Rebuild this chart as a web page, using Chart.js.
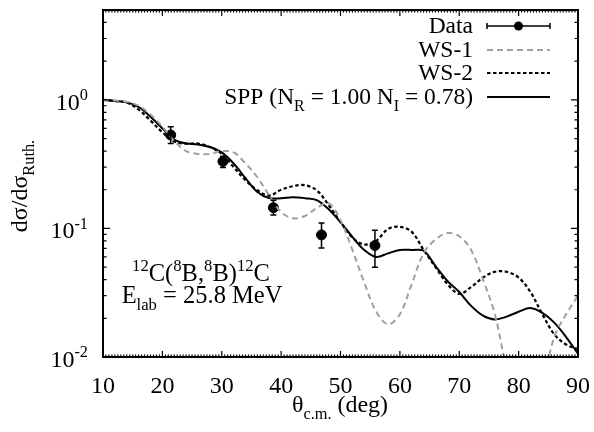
<!DOCTYPE html>
<html><head><meta charset="utf-8">
<script src="https://cdn.jsdelivr.net/npm/chart.js@4/dist/chart.umd.min.js"></script>
<style>html,body{margin:0;padding:0;background:#fff}#wrap{width:594px;height:432px}</style>
</head><body><div id="wrap"><canvas id="c" width="594" height="432"></canvas></div>
<script>
const angles = [10,12,14,16,18,20,22,24,26,28,30,32,34,36,38,40,42,44,46,48,50,52,54,56,58,60,62,64,66,68,70,72,74,76,78,80,82,84,86,88,90];
const ws1 = [1.0,0.99,0.965,0.90,0.77,0.62,0.48,0.40,0.38,0.38,0.40,0.39,0.32,0.25,0.18,0.134,0.12,0.125,0.144,0.157,0.116,0.068,0.038,0.0226,0.018,0.0215,0.037,0.064,0.082,0.092,0.087,0.068,0.040,0.0215,0.008,0.004,0.003,0.006,0.0143,0.0215,0.030];
const ws2 = [1.0,0.98,0.95,0.84,0.69,0.56,0.474,0.457,0.457,0.43,0.38,0.30,0.237,0.198,0.18,0.20,0.213,0.217,0.198,0.152,0.112,0.085,0.075,0.08,0.099,0.103,0.094,0.068,0.05,0.037,0.031,0.035,0.0415,0.046,0.046,0.0415,0.032,0.0215,0.015,0.0125,0.0115];
const spp = [1.0,0.98,0.956,0.88,0.74,0.60,0.49,0.457,0.45,0.43,0.39,0.32,0.246,0.192,0.172,0.172,0.175,0.172,0.166,0.141,0.112,0.086,0.068,0.06,0.064,0.068,0.068,0.067,0.051,0.039,0.032,0.025,0.021,0.0196,0.0206,0.0225,0.024,0.022,0.0185,0.0143,0.0106];
const dataAngles = [21.4,30.2,38.7,46.8,55.8];
const dataValues = [0.533,0.332,0.145,0.089,0.0736];
const dataLow = [0.457,0.298,0.127,0.0703,0.050];
const dataHigh = [0.618,0.365,0.166,0.110,0.097];
const xTicks = [10,20,30,40,50,60,70,80,90];
const yTickExps = [-2,-1,0];
const legendLabels = ["Data","WS-1","WS-2","SPP"];

const FONT = '"Liberation Serif","Times New Roman",serif';
const W = '';
const pts = (xs, ys) => xs.map((x,i)=>({x:x,y:ys[i]}));

function richWidth(ctx, segs, size){
  let w=0;
  for(const s of segs){ const fs = s.k ? size*0.68 : size; ctx.font = W+fs+'px '+FONT; w += ctx.measureText(s.t).width; }
  return w;
}
function drawRich(ctx, segs, x, y, size, align){
  const w = richWidth(ctx, segs, size);
  let cx = align==='right' ? x-w : align==='center' ? x-w/2 : x;
  ctx.textBaseline='alphabetic'; ctx.textAlign='left';
  for(const s of segs){
    const fs = s.k ? size*0.68 : size;
    ctx.font = W+fs+'px '+FONT;
    const dy = s.k==='sub' ? size*0.28 : s.k==='sup' ? -size*0.40 : 0;
    ctx.fillText(s.t, cx, y+dy);
    cx += ctx.measureText(s.t).width;
  }
}

const decor = {
  id:'decor',
  afterDatasetsDraw(chart){
    const ctx = chart.ctx, xs = chart.scales.x, ys = chart.scales.y;
    ctx.save();
    ctx.strokeStyle='#000'; ctx.lineWidth=1.5;
    dataAngles.forEach((d,i)=>{
      const px = xs.getPixelForValue(d), lo = ys.getPixelForValue(dataLow[i]), hi = ys.getPixelForValue(dataHigh[i]);
      ctx.beginPath(); ctx.moveTo(px,lo); ctx.lineTo(px,hi);
      ctx.moveTo(px-3,lo); ctx.lineTo(px+3,lo); ctx.moveTo(px-3,hi); ctx.lineTo(px+3,hi); ctx.stroke();
    });
    ctx.restore();
  },
  afterDraw(chart){
    const ctx = chart.ctx, xs = chart.scales.x, ys = chart.scales.y, a = chart.chartArea;
    ctx.save();
    ctx.fillStyle='#000'; ctx.strokeStyle='#000';
    ctx.lineWidth=1.2;
    ctx.beginPath();
    for(let v=10; v<=90.001; v+=0.5){
      const px = xs.getPixelForValue(v);
      const major = Math.abs(v/10-Math.round(v/10))<1e-6;
      const L = major?6:2.5;
      ctx.moveTo(px,a.bottom); ctx.lineTo(px,a.bottom-L);
      ctx.moveTo(px,a.top); ctx.lineTo(px,a.top+L);
    }
    for(let e=-2;e<=0;e++){
      for(let m=1;m<=9;m++){
        const v = m*Math.pow(10,e);
        if(v>5.0001) continue;
        const py = ys.getPixelForValue(v);
        const L = m===1?7:3.5;
        ctx.moveTo(a.left,py); ctx.lineTo(a.left+L,py);
        ctx.moveTo(a.right,py); ctx.lineTo(a.right-L,py);
      }
    }
    ctx.stroke();
    ctx.lineWidth=2;
    ctx.strokeRect(a.left,a.top,a.right-a.left,a.bottom-a.top);
    ctx.font=W+'24px '+FONT; ctx.textAlign='center'; ctx.textBaseline='alphabetic';
    xTicks.forEach(t=>{ ctx.fillText(String(t), xs.getPixelForValue(t), 393); });
    yTickExps.forEach(e=>{
      const py = ys.getPixelForValue(Math.pow(10,e));
      drawRich(ctx,[{t:'10'},{t:(e===0?'0':'-'+(-e)),k:'sup'}],88,py+10,24,'right');
    });
    drawRich(ctx,[{t:'\u03b8'},{t:'c.m.',k:'sub'},{t:' (deg)'}],340,412,24,'center');
    ctx.save(); ctx.translate(27,186); ctx.rotate(-Math.PI/2);
    drawRich(ctx,[{t:'d\u03c3/d\u03c3'},{t:'Ruth.',k:'sub'}],0,0,24,'center');
    ctx.restore();
    drawRich(ctx,[{t:'12',k:'sup'},{t:'C('},{t:'8',k:'sup'},{t:'B,'},{t:'8',k:'sup'},{t:'B)'},{t:'12',k:'sup'},{t:'C'}],201,281,24.5,'center');
    drawRich(ctx,[{t:'E'},{t:'lab',k:'sub'},{t:' = 25.8 MeV'}],202,303,24.5,'center');
    const lx0=487, lx1=550, tx=473;
    const rows=[26,50,73,97];
    drawRich(ctx,[{t:legendLabels[0]}],tx,rows[0]+7,23.5,'right');
    drawRich(ctx,[{t:legendLabels[1]}],tx,rows[1]+7,23.5,'right');
    drawRich(ctx,[{t:legendLabels[2]}],tx,rows[2]+7,23.5,'right');
    drawRich(ctx,[{t:'SPP (N'},{t:'R',k:'sub'},{t:' = 1.00 N'},{t:'I',k:'sub'},{t:' = 0.78)'}],tx,rows[3]+7,23.5,'right');
    ctx.lineWidth=1.5; ctx.setLineDash([]);
    ctx.beginPath(); ctx.moveTo(lx0,rows[0]); ctx.lineTo(lx1,rows[0]);
    ctx.moveTo(lx0,rows[0]-3); ctx.lineTo(lx0,rows[0]+3); ctx.moveTo(lx1,rows[0]-3); ctx.lineTo(lx1,rows[0]+3); ctx.stroke();
    ctx.beginPath(); ctx.arc((lx0+lx1)/2,rows[0],4.5,0,Math.PI*2); ctx.fill();
    const styles=[null,{c:'#a0a0a0',d:[6,4],w:2},{c:'#000',d:[3.5,2.5],w:2.2},{c:'#000',d:[],w:2}];
    for(let i=1;i<4;i++){
      ctx.strokeStyle=styles[i].c; ctx.lineWidth=styles[i].w; ctx.setLineDash(styles[i].d);
      ctx.beginPath(); ctx.moveTo(lx0,rows[i]); ctx.lineTo(lx1,rows[i]); ctx.stroke();
    }
    ctx.restore();
  }
};

new Chart(document.getElementById('c'),{
  type:'line',
  data:{datasets:[
    {label:'WS-1',data:pts(angles,ws1),borderColor:'#a0a0a0',borderWidth:2,borderDash:[6,4],pointRadius:0,tension:0.35,fill:false},
    {label:'WS-2',data:pts(angles,ws2),borderColor:'#000',borderWidth:2.2,borderDash:[3.5,2.5],pointRadius:0,tension:0.35,fill:false},
    {label:'SPP',data:pts(angles,spp),borderColor:'#000',borderWidth:2,pointRadius:0,tension:0.35,fill:false},
    {label:'Data',data:pts(dataAngles,dataValues),showLine:false,pointRadius:5,pointBackgroundColor:'#000',pointBorderColor:'#000',borderColor:'#000'}
  ]},
  options:{
    responsive:false,animation:false,
    layout:{padding:{left:103,top:10,right:16,bottom:75}},
    plugins:{legend:{display:false},tooltip:{enabled:false}},
    scales:{
      x:{type:'linear',min:10,max:90,display:false},
      y:{type:'logarithmic',min:0.01,max:5,display:false}
    }
  },
  plugins:[decor]
});
</script></body></html>
